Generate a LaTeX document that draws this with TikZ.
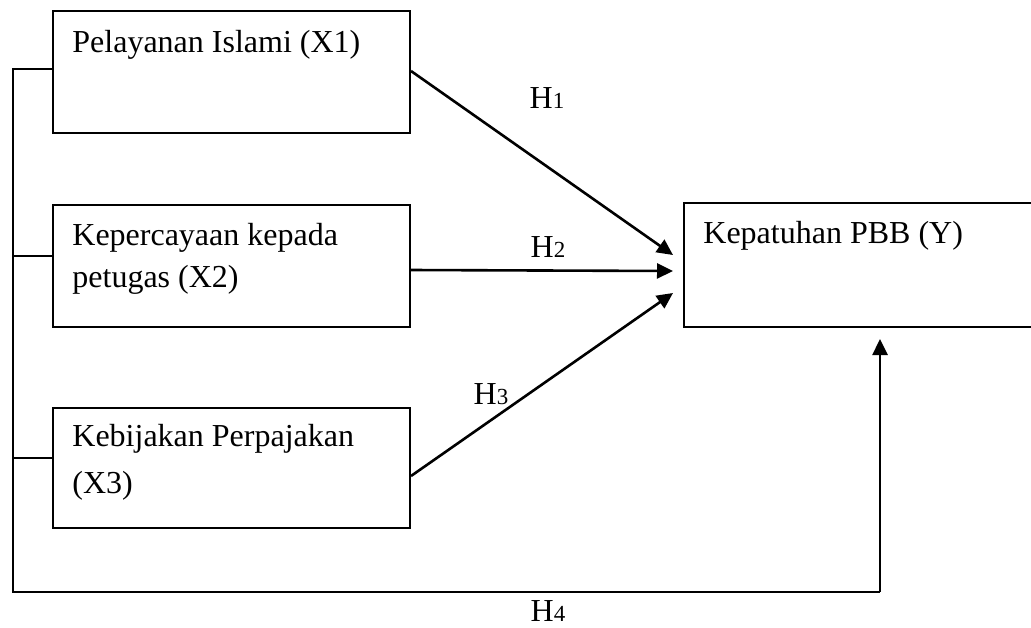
\documentclass[tikz,border=0pt]{standalone}
\usepackage{fontspec}
\setmainfont{Liberation Serif}
\usetikzlibrary{arrows.meta}
\newcommand\hdig[1]{{\fontsize{11.5}{13}\selectfont #1}}
\tikzset{
  boxnode/.style={draw, line width=1pt, inner sep=0pt, anchor=north west},
  txt/.style={inner sep=0pt, anchor=base west, font=\fontsize{16}{19}\selectfont},
  hlabel/.style={inner sep=0pt, anchor=base, font=\fontsize{16}{19}\selectfont},
  conn/.style={line width=1pt},
  arr/.style={line width=1.3pt, -{Triangle[length=8pt,width=7.5pt]}}
}
\begin{document}
\begin{tikzpicture}[x=0.5pt,y=-0.5pt]
\clip (0,0) rectangle (1031,627);
% boxes
\node[boxnode, minimum width=178.5pt, minimum height=61pt] (X1) at (52,10) {};
\node[boxnode, minimum width=178.5pt, minimum height=61pt] (X2) at (52,204) {};
\node[boxnode, minimum width=178.5pt, minimum height=60pt] (X3) at (52,407) {};
\node[boxnode, minimum width=185pt, minimum height=62pt] (Y) at (683,202) {};
% texts
\node[txt] (t1) at (72,52) {Pelayanan Islami (X1)};
\node[txt] (t2a) at (72,245) {Kepercayaan kepada};
\node[txt] (t2b) at (72,287) {petugas (X2)};
\node[txt] (t3a) at (72,446) {Kebijakan Perpajakan};
\node[txt] (t3b) at (72,493) {(X3)};
\node[txt] (ty) at (703,243) {Kepatuhan PBB (Y)};
% hypothesis labels
\node[hlabel] (h1) at (547,108) {H\hdig{1}};
\node[hlabel] (h2) at (548,257) {H\hdig{2}};
\node[hlabel] (h3) at (491,404) {H\hdig{3}};
\node[hlabel] (h4) at (548,621) {H\hdig{4}};
% spine coordinates
\coordinate (s1) at (13,69);
\coordinate (s2) at (13,256);
\coordinate (s3) at (13,458);
\coordinate (s4) at (13,592);
\coordinate (b4) at (880,592);
% arrow tips near Y
\coordinate (p1) at ([xshift=-5pt,yshift=5pt]Y.west);
\coordinate (p2) at ([xshift=-5pt,yshift=-3pt]Y.west);
\coordinate (p3) at ([xshift=-5pt,yshift=-14pt]Y.west);
% bracket
\draw[conn] (s1 -| X1.west) -- (s1) -- (s4) -- (b4);
\draw[conn] (s2) -- (s2 -| X2.west);
\draw[conn] (s3) -- (s3 -| X3.west);
\draw[arr, shorten >=5.5pt] (b4) -- (b4 |- Y.south);
% arrows
\draw[arr] ([yshift=0.5pt]X1.east) -- (p1);
\draw[arr] ([yshift=-2pt]X2.east) -- (p2);
\draw[arr] ([yshift=-4pt]X3.east) -- (p3);
\end{tikzpicture}
\end{document}
